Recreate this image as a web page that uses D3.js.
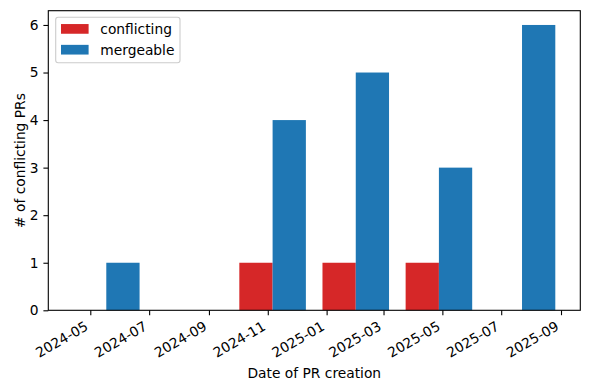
<!DOCTYPE html>
<html>
<head>
<meta charset="utf-8">
<script src="https://cdn.jsdelivr.net/npm/d3@7"></script>
<style>
  body { margin: 0; background: #fff; }
  text { font-family: "DejaVu Sans", sans-serif; fill: #000; }
</style>
</head>
<body>
<div id="chart"></div>
<script>
// Data (bin centres of PR creation dates, counts per bin)
var binDates = ["2024-05-17T14:00Z", "2024-08-11T19:00Z", "2024-11-06T00:00Z",
                "2025-01-31T05:00Z", "2025-04-27T10:00Z", "2025-07-22T14:00Z"];
var conflicting = [0, 0, 1, 1, 1, 0];
var mergeable = [1, 0, 4, 5, 3, 6];
var barDays = 34.5;

var xTickLabels = ["2024-05", "2024-07", "2024-09", "2024-11", "2025-01",
                   "2025-03", "2025-05", "2025-07", "2025-09"];
var yTicks = [0, 1, 2, 3, 4, 5, 6];
var seriesNames = ["conflicting", "mergeable"];
var colors = ["#d62728", "#1f77b4"];

// Canvas
var W = 590, H = 390;
var margin = { top: 10.7, right: 9.7, bottom: 79.7, left: 48.3 };
var fs = 13.8;

var svg = d3.select("#chart").append("svg")
    .attr("width", W)
    .attr("height", H);

var x = d3.scaleUtc()
    .domain([new Date("2024-03-18T11:00Z"), new Date("2025-09-21T00:00Z")])
    .range([margin.left, W - margin.right]);

var y = d3.scaleLinear()
    .domain([0, 6.3])
    .range([H - margin.bottom, margin.top]);

var dayMs = 864e5;
var parsed = binDates.map(function(d) { return new Date(d); });

// bars: conflicting left of centre, mergeable right of centre
[conflicting, mergeable].forEach(function(vals, s) {
    svg.append("g").selectAll("rect")
        .data(vals)
        .enter().append("rect")
        .attr("x", function(d, i) {
            var t = parsed[i].getTime() + (s === 0 ? -barDays * dayMs : 0);
            return x(new Date(t));
        })
        .attr("width", function(d, i) {
            var t = parsed[i].getTime();
            return x(new Date(t + barDays * dayMs)) - x(new Date(t));
        })
        .attr("y", function(d) { return y(d); })
        .attr("height", function(d) { return y(0) - y(d); })
        .attr("fill", colors[s]);
});

// axes
var xTicks = xTickLabels.map(function(l) { return new Date(l + "-01T00:00Z"); });

var xAxis = svg.append("g")
    .attr("transform", "translate(0," + y(0) + ")")
    .call(d3.axisBottom(x).tickValues(xTicks).tickSize(4.9).tickFormat(function(d, i) { return xTickLabels[i]; }));

xAxis.selectAll("text")
    .style("font-size", fs + "px")
    .attr("text-anchor", "end")
    .attr("dy", null)
    .attr("y", 0)
    .attr("transform", "translate(-1.6," + (9.7 + 9.1) + ") rotate(-30)");

var yAxis = svg.append("g")
    .attr("transform", "translate(" + margin.left + ",0)")
    .call(d3.axisLeft(y).tickValues(yTicks).tickSize(4.9).tickPadding(4.9).tickFormat(d3.format("d")));

yAxis.selectAll("text").style("font-size", fs + "px");

svg.selectAll(".domain").remove();
svg.selectAll(".tick line").attr("stroke", "#000").attr("stroke-width", 1.1);

// frame
svg.append("rect")
    .attr("x", margin.left)
    .attr("y", margin.top)
    .attr("width", W - margin.left - margin.right)
    .attr("height", H - margin.top - margin.bottom)
    .attr("fill", "none")
    .attr("stroke", "#000")
    .attr("stroke-width", 1.1);

// labels
svg.append("text")
    .attr("x", (margin.left + W - margin.right) / 2)
    .attr("y", 377.5)
    .attr("text-anchor", "middle")
    .style("font-size", fs + "px")
    .text("Date of PR creation");

svg.append("text")
    .attr("transform", "translate(24.5," + ((margin.top + H - margin.bottom) / 2) + ") rotate(-90)")
    .attr("text-anchor", "middle")
    .style("font-size", fs + "px")
    .text("# of conflicting PRs");

// legend
var legend = svg.append("g");
legend.append("rect")
    .attr("x", 55.7).attr("y", 17.3)
    .attr("width", 124.3).attr("height", 45.4)
    .attr("rx", 2.5)
    .attr("fill", "#fff")
    .attr("fill-opacity", 0.8)
    .attr("stroke", "#cccccc")
    .attr("stroke-width", 1.1);

seriesNames.forEach(function(name, i) {
    var cy = 28.9 + i * 20.8;
    legend.append("rect")
        .attr("x", 61).attr("y", cy - 4.85)
        .attr("width", 27.6).attr("height", 9.7)
        .attr("fill", colors[i]);
    legend.append("text")
        .attr("x", 100.3).attr("y", cy + 4.9)
        .style("font-size", fs + "px")
        .text(name);
});
</script>
</body>
</html>
